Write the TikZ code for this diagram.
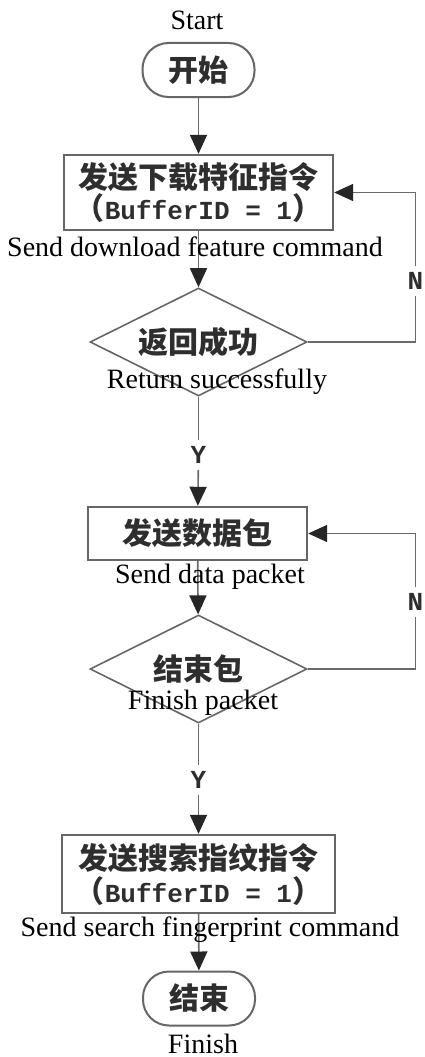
\documentclass[tikz,border=0pt]{standalone}
\usepackage{fontspec}
\setmainfont{Liberation Serif}
\setmonofont{Liberation Mono}
\newfontfamily\cjk{Noto Sans CJK SC}
\usetikzlibrary{shapes.geometric,arrows.meta}

\definecolor{lngray}{HTML}{6A6A6A}
\definecolor{boxgray}{HTML}{666666}
\definecolor{cjkgray}{HTML}{2E2E2E}

\tikzset{
  flowline/.style={draw=lngray, line width=1.6pt},
  arr/.style={flowline, -{Triangle[length=19pt,width=17pt,color=black!85]}},
  cjkfont/.style={font=\cjk\bfseries\fontsize{30}{31}\selectfont, text=cjkgray},
  termbox/.style={cjkfont, draw=boxgray, line width=2pt, rounded corners=26pt,
    minimum width=112pt, minimum height=54pt, inner sep=0pt},
  procbox/.style={cjkfont, draw=boxgray, line width=2.4pt, align=center,
    inner sep=0pt},
  decbox/.style={cjkfont, diamond, aspect=2, draw=boxgray, line width=1.6pt,
    inner sep=0pt, minimum width=217pt, minimum height=108pt},
  engtext/.style={font=\fontsize{28}{32}\selectfont, text=black, anchor=base,
    inner sep=0pt},
  yntext/.style={font=\ttfamily\bfseries\fontsize{26}{30}\selectfont,
    text=cjkgray, inner xsep=1pt, inner ysep=6pt}
}

\newcommand{\bufid}{{\cjk（}{\ttfamily\bfseries\fontsize{26}{31}\selectfont BufferID = 1}{\cjk）}}

\begin{document}
\begin{tikzpicture}[x=1pt,y=-1pt]
  \useasboundingbox (0,0) rectangle (424,1057);

  % flow chart nodes
  \node[termbox] (start) at (198.5,70) {开始};
  \node[procbox, minimum width=269pt, minimum height=75pt] (sendfeat) at (198.5,192.5)
    {发送下载特征指令\\[0pt]\bufid};
  \node[decbox] (okret) at (198.5,342) {返回成功};
  \node[procbox, minimum width=219pt, minimum height=53pt] (senddata) at (197.5,533.5)
    {发送数据包};
  \node[decbox] (lastpkt) at (198.5,669) {结束包};
  \node[procbox, minimum width=273pt, minimum height=78pt] (sendsearch) at (198.5,874)
    {发送搜索指纹指令\\[2pt]\bufid};
  \node[termbox] (stop) at (199,998.5) {结束};

  % yes / no labels
  \node[yntext] (yes1) at (198.5,455) {Y};
  \node[yntext] (yes2) at (198.5,780) {Y};
  \node[yntext] (no1) at (415.5,281) {N};
  \node[yntext] (no2) at (415.5,602) {N};

  % main flow
  \draw[arr] (start) -- (sendfeat);
  \draw[arr] (sendfeat) -- (okret);
  \draw[flowline] (okret) -- (yes1);
  \draw[arr] (yes1) -- (senddata);
  \draw[arr] (senddata) -- (lastpkt);
  \draw[flowline] (lastpkt) -- (yes2);
  \draw[arr] (yes2) -- (sendsearch);
  \draw[arr] (sendsearch) -- (stop);

  % loops back
  \draw[flowline] (okret.east) -| (no1.south);
  \draw[arr] (no1.north) |- (sendfeat.east);
  \draw[flowline] (lastpkt.east) -| (no2.south);
  \draw[arr] (no2.north) |- (senddata.east);

  % english captions
  \node[engtext] (capstart) at (197,30) {Start};
  \node[engtext] (capfeat) at (195,256) {Send download feature command};
  \node[engtext] (capok) at (217,388) {Return successfully};
  \node[engtext] (capdata) at (210,583) {Send data packet};
  \node[engtext] (caplast) at (203,709) {Finish packet};
  \node[engtext] (capsearch) at (210,936) {Send search fingerprint command};
  \node[engtext] (capstop) at (203,1053) {Finish};

\end{tikzpicture}
\end{document}
